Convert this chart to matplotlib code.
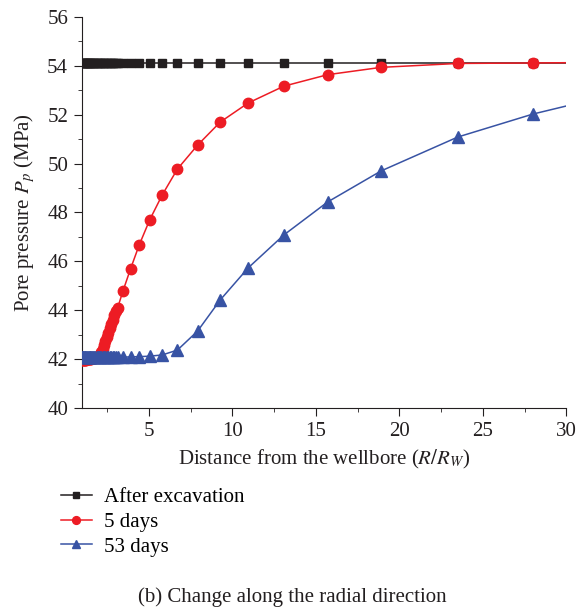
import matplotlib
matplotlib.use('Agg')
import matplotlib.pyplot as plt
from matplotlib.ticker import MultipleLocator

plt.rcParams['font.family'] = 'Liberation Serif'
plt.rcParams['mathtext.fontset'] = 'stix'

# radial distance R/Rw (dense mesh near the wall)
distance = [1.00, 1.04, 1.08, 1.12, 1.16, 1.20, 1.25, 1.30, 1.35, 1.40,
            1.45, 1.50, 1.56, 1.62, 1.68, 1.74, 1.80, 1.87, 1.94, 2.01,
            2.08, 2.15, 2.23, 2.31, 2.39, 2.47, 2.56, 2.65, 2.74, 2.83,
            2.93, 3.03, 3.13,
            3.45, 3.90, 4.42, 5.05, 5.80, 6.71, 7.92, 9.27, 10.94, 13.08,
            15.70, 18.90, 23.50, 28.00, 30.00]

# pore pressure (MPa)
p_excavation = [54.13, 54.13, 54.13, 54.13, 54.13, 54.13, 54.13, 54.13, 54.13, 54.13,
                54.13, 54.13, 54.13, 54.13, 54.13, 54.13, 54.13, 54.13, 54.13, 54.13,
                54.13, 54.13, 54.13, 54.13, 54.13, 54.13, 54.13, 54.13, 54.13, 54.13,
                54.13, 54.13, 54.13,
                54.13, 54.13, 54.13, 54.13, 54.13, 54.13, 54.13, 54.13, 54.13, 54.13,
                54.13, 54.13, 54.13, 54.13, 54.13]
p_5days = [41.95, 41.96, 41.96, 41.97, 41.97, 41.98, 41.98, 41.99, 41.99, 42.00,
           42.00, 42.01, 42.02, 42.03, 42.04, 42.05, 42.06, 42.07, 42.09, 42.12,
           42.18, 42.28, 42.42, 42.58, 42.74, 42.90, 43.08, 43.26, 43.44, 43.62,
           43.81, 43.97, 44.10,
           44.79, 45.69, 46.67, 47.70, 48.72, 49.78, 50.76, 51.70, 52.48, 53.17,
           53.64, 53.94, 54.10, 54.12, 54.13]
p_53days = [42.08, 42.08, 42.08, 42.08, 42.08, 42.08, 42.08, 42.08, 42.08, 42.08,
            42.08, 42.08, 42.08, 42.08, 42.08, 42.08, 42.08, 42.08, 42.08, 42.08,
            42.08, 42.08, 42.08, 42.08, 42.08, 42.08, 42.08, 42.08, 42.08, 42.08,
            42.08, 42.08, 42.08,
            42.08, 42.09, 42.10, 42.12, 42.17, 42.37, 43.15, 44.42, 45.73, 47.08,
            48.43, 49.70, 51.09, 52.03, 52.36]

fig = plt.figure(figsize=(5.78, 6.08), dpi=100)
ax = fig.add_axes([0.142, 0.329, 0.838, 0.643])

marks = slice(0, -1)  # last point (x=30) has no marker
ax.plot(distance, p_excavation, color='#231f20', lw=1.1, marker='s', ms=6,
        markevery=marks, label='After excavation', zorder=3)
ax.plot(distance, p_5days, color='#ed1c24', lw=1.1, marker='o', ms=7.5,
        markevery=marks, label='5 days', zorder=4)
ax.plot(distance, p_53days, color='#3853a4', lw=1.1, marker='^', ms=8.5,
        markevery=marks, label='53 days', zorder=5)

ax.set_xlim(1, 30)
ax.set_ylim(40, 56)
ax.xaxis.set_major_locator(MultipleLocator(5))
ax.xaxis.set_minor_locator(MultipleLocator(2.5))
ax.yaxis.set_major_locator(MultipleLocator(2))
ax.yaxis.set_minor_locator(MultipleLocator(1))
ax.tick_params(which='both', direction='out', labelsize=15, color='#231f20',
               labelcolor='#231f20', pad=4)
ax.tick_params(which='major', length=6)
ax.tick_params(which='minor', length=3)
for side in ['top', 'right']:
    ax.spines[side].set_visible(False)
for side in ['left', 'bottom']:
    ax.spines[side].set_color('#231f20')

ax.set_xlabel('Distance from the wellbore ($R/R_W$)', fontsize=15,
              color='#231f20', labelpad=5)
ax.set_ylabel('Pore pressure $P_p$ (MPa)', fontsize=15, color='#231f20',
              labelpad=7)

fig.legend(loc='upper left', bbox_to_anchor=(0.105, 0.198), frameon=False,
           fontsize=15, handlelength=1.5, labelspacing=0.25, handletextpad=0.6,
           borderaxespad=0, borderpad=0, markerscale=0.75)

fig.text(0.506, 0.018, '(b) Change along the radial direction', ha='center',
         va='center', fontsize=15, color='#231f20')

plt.savefig('out.png', dpi=100)
